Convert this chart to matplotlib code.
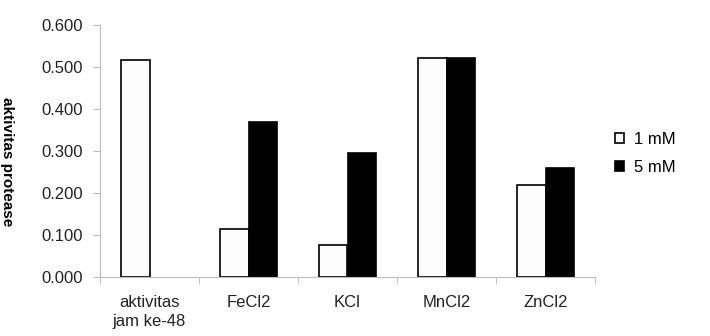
import matplotlib.pyplot as plt
import numpy as np

plt.rcParams['font.family'] = ['Liberation Sans', 'DejaVu Sans']

categories = ['aktivitas\njam ke-48', 'FeCl2', 'KCl', 'MnCl2', 'ZnCl2']
mm1 = [0.517, 0.115, 0.076, 0.522, 0.218]
mm5 = [0.0, 0.368, 0.295, 0.522, 0.259]
yticks = [0.0, 0.1, 0.2, 0.3, 0.4, 0.5, 0.6]

fig = plt.figure(figsize=(7.1, 3.36), dpi=100)
ax = fig.add_axes([100/710, 1-277/336, 495/710, 252/336])

x = np.arange(len(categories))
w = 0.285
ax.bar(x - w/2, mm1, w, color='#fdfdfd', edgecolor='black', linewidth=1.2, label='1 mM')
ax.bar(x[1:] + w/2, mm5[1:], w, color='black', edgecolor='black', linewidth=1.2, label='5 mM')

ax.set_xlim(-0.5, len(categories) - 0.5)
ax.set_ylim(0, 0.6)
ax.set_yticks(yticks)
ax.set_yticklabels(['%.3f' % v for v in yticks])
ax.set_xticks(x)
ax.set_xticklabels(categories, linespacing=1.35)
ax.set_xticks(np.arange(len(categories) + 1) - 0.5, minor=True)
ax.tick_params(axis='x', which='major', length=0, pad=13)
ax.tick_params(axis='x', which='minor', length=5, color='#bbbbbb')
ax.tick_params(axis='y', length=5, color='#bbbbbb', pad=7)
ax.tick_params(labelsize=12, labelcolor='#222222')
for s in ['top', 'right']:
    ax.spines[s].set_visible(False)
for s in ['left', 'bottom']:
    ax.spines[s].set_color('#bbbbbb')

fig.text(0.0, 0.52, 'aktivitas protease', rotation=-90, fontsize=11,
         fontweight='bold', va='center', ha='left')

ax.legend(loc='center left', bbox_to_anchor=(1.01, 0.49), frameon=False,
          fontsize=12, handlelength=0.55, handleheight=0.55, handletextpad=0.6,
          labelspacing=0.75)

fig.savefig('out.png', dpi=100)
